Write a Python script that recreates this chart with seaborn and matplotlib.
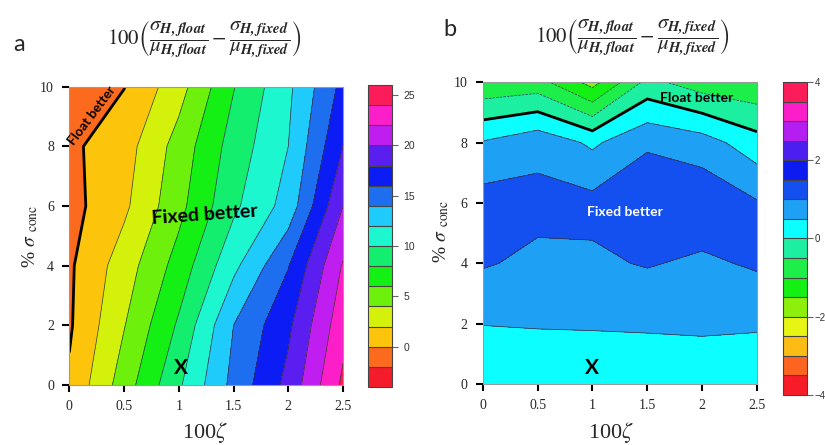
import numpy as np
import matplotlib
matplotlib.use("Agg")
import matplotlib.pyplot as plt
import seaborn as sns

# grid (100*zeta on x, % sigma_conc on y)
zeta = [0, 0.5, 1, 1.5, 2, 2.5]
sigma_conc = [0, 2, 4, 6, 8, 10]
zeta_labels = ['0', '0.5', '1', '1.5', '2', '2.5']

# panel a: 100*(CV float - CV fixed), rows follow sigma_conc
diff_a = [
    [0.3, 5.0, 9.7, 14.6, 18.6, 24.4],
    [-0.25, 3.9, 8.3, 14.0, 17.6, 23.3],
    [-0.3, 3.0, 6.8, 11.5, 15.9, 22.2],
    [-0.69, 1.6, 5.4, 9.6, 12.8, 20.0],
    [-0.39, 1.12, 4.8, 8.85, 12.0, 18.0],
    [-1.5, -0.05, 3.2, 7.9, 11.6, 16.6],
]

# panel b
diff_b = [
    [0.3, 0.3, 0.3, 0.3, 0.3, 0.3],
    [0.506, 0.519, 0.526, 0.537, 0.553, 0.534],
    [1.049, 0.882, 0.908, 1.040, 0.902, 1.073],
    [1.207, 1.157, 1.148, 1.43, 1.381, 1.042],
    [0.54, 0.84, 0.41, 0.918, 0.73, 0.2],
    [-0.9, -0.8, -1.69, -0.35, -0.77, -0.9],
]

levels_a = np.arange(-4, 27, 2)
levels_b = np.arange(-4, 4.01, 0.5)
ticks_a = [0, 5, 10, 15, 20, 25]
ticks_b = [-4, -2, 0, 2, 4]

colors_a = ['#f41c2a', '#fc6a1e', '#fcc50c', '#d4f10c', '#6cf00c', '#14f014',
            '#14ee6e', '#1cf7d0', '#1ecbfb', '#1e6ef0', '#0c1cf5', '#5a1ef0',
            '#c01ef0', '#fc1ec8', '#fc1c5a']
colors_b = ['#f81c28', '#fc6420', '#fcbc14', '#e8f414', '#8cf00c', '#14f014',
            '#1eee4a', '#1cf0a0', '#0cffff', '#1ea0f5', '#1450f0', '#0c1cf0',
            '#4c1ef0', '#b41ef0', '#fc1ec8', '#fc1c5a']

sns.set_theme(style="ticks")
plt.rcParams['font.family'] = ['Liberation Serif', 'DejaVu Serif']
plt.rcParams['mathtext.fontset'] = 'stix'

fig = plt.figure(figsize=(8.25, 4.45), dpi=100)


def panel(rect, cb_rect, Z, levels, colors, cticks, cpad):
    ax = fig.add_axes(rect)
    cf = ax.contourf(zeta, sigma_conc, Z, levels=levels,
                     colors=sns.color_palette(colors))
    ax.contour(zeta, sigma_conc, Z, levels=levels, colors='#333333', linewidths=0.5)
    ax.contour(zeta, sigma_conc, Z, levels=[0], colors='black', linewidths=2)
    ax.set_xlim(0, 2.5)
    ax.set_ylim(0, 10)
    ax.set_xticks(zeta)
    ax.set_xticklabels(zeta_labels)
    ax.set_yticks(sigma_conc)
    for s in ax.spines.values():
        s.set_color('#9a9a9a')
        s.set_linewidth(0.8)
    ax.tick_params(direction='out', length=5, width=1.5, color='black',
                   labelsize=10, pad=6)
    cax = fig.add_axes(cb_rect)
    cb = fig.colorbar(cf, cax=cax, drawedges=True, ticks=cticks)
    cb.outline.set_edgecolor('#444444')
    cb.outline.set_linewidth(0.8)
    cb.dividers.set_color('#444444')
    cb.dividers.set_linewidth(0.8)
    cax.tick_params(labelsize=7.5, length=4, width=0.8, color='#666666',
                    labelcolor='#333333', pad=cpad)
    for lab in cax.get_yticklabels():
        lab.set_family(['Liberation Sans', 'DejaVu Sans'])
    return ax


ax_a = panel([0.0840, 0.1348, 0.3318, 0.6703], [0.4461, 0.1303, 0.0291, 0.6787],
             diff_a, levels_a, colors_a, ticks_a, 4)
ax_b = panel([0.5851, 0.1371, 0.3325, 0.6780], [0.9491, 0.1124, 0.0291, 0.7034],
             diff_b, levels_b, colors_b, ticks_b, 1.5)
for lab in fig.axes[-1].get_yticklabels():
    lab.set_fontsize(7)

bold_sans = ['Lato', 'DejaVu Sans']
ax_a.text(1.24, 5.7, 'Fixed better', family=bold_sans, weight='bold', fontsize=14,
          rotation=4, ha='center', va='center', color='black')
ax_a.text(0.205, 9.03, 'Float better', family=bold_sans, weight='bold', fontsize=9.5,
          rotation=53, ha='center', va='center', color='black')
ax_a.text(1.02, 0.56, 'X', family=bold_sans, weight='bold', fontsize=15,
          ha='center', va='center', color='black')
ax_b.text(1.30, 5.70, 'Fixed better', family=bold_sans, weight='bold', fontsize=10,
          ha='center', va='center', color='white')
ax_b.text(1.95, 9.49, 'Float better', family=bold_sans, weight='bold', fontsize=10,
          ha='center', va='center', color='black')
ax_b.text(1.0, 0.54, 'X', family=bold_sans, weight='bold', fontsize=15,
          ha='center', va='center', color='black')

title = (r'$100\left(\dfrac{\sigma_{\mathbfit{H,float}}}{\mu_{\mathbfit{H,float}}}'
         r'-\dfrac{\sigma_{\mathbfit{H,fixed}}}{\mu_{\mathbfit{H,fixed}}}\right)$')
fig.text(0.248, 0.91, title, fontsize=15, ha='center', va='center')
fig.text(0.766, 0.915, title, fontsize=15, ha='center', va='center')
fig.text(0.016, 0.9, 'a', family=['Lato', 'DejaVu Sans'], fontsize=17, va='center')
fig.text(0.538, 0.933, 'b', family=['Lato', 'DejaVu Sans'], fontsize=17, va='center')

for x in (0.248, 0.74):
    fig.text(x, 0.027, r'100$\zeta$', fontsize=16, ha='center', va='center')
ylab = r'% $\sigma$ $_{\mathrm{conc}}$'
fig.text(0.037, 0.47, ylab, fontsize=14, rotation=90, ha='center', va='center')
fig.text(0.535, 0.48, ylab, fontsize=14, rotation=90, ha='center', va='center')

fig.savefig('out.png', dpi=100)
